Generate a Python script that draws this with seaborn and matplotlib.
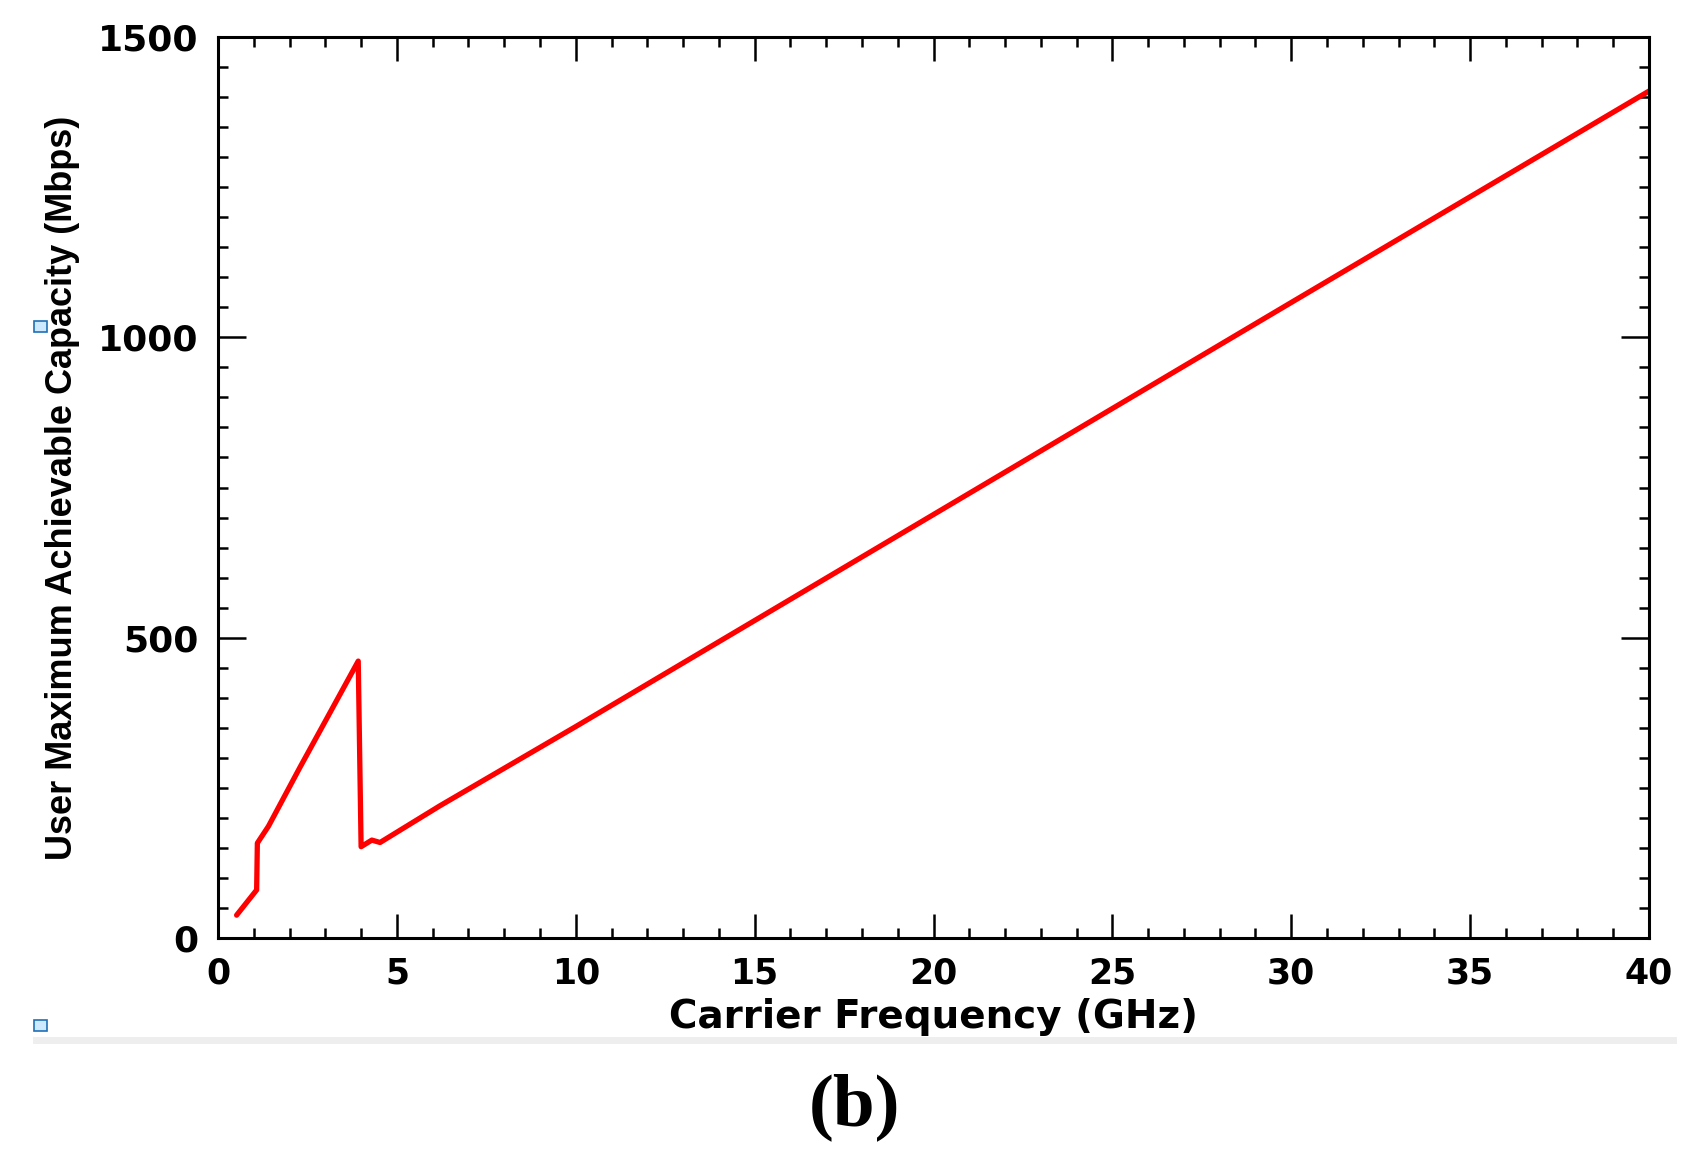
import matplotlib
matplotlib.use("Agg")
import matplotlib.pyplot as plt
from matplotlib.patches import Rectangle
from matplotlib.ticker import MultipleLocator
import seaborn as sns
import pandas as pd

# ---- data ----
freq_ghz = [0.52, 1.08, 1.10, 1.41, 2.29, 3.0, 3.92, 4.0, 4.3, 4.53, 6.2, 10, 20, 30, 40]
capacity_mbps = [38, 80, 158, 186, 284, 361, 461, 152, 163, 159, 220, 352, 705, 1058, 1410]

x_label = "Carrier Frequency (GHz)"
y_label = "User Maximum Achievable Capacity (Mbps)"
panel_label = "(b)"

df = pd.DataFrame({"freq": freq_ghz, "cap": capacity_mbps})

sns.set_theme(style="white")
plt.rcParams["font.family"] = ["DejaVu Sans"]
plt.rcParams["text.color"] = "black"
plt.rcParams["axes.labelcolor"] = "black"
plt.rcParams["xtick.color"] = "black"
plt.rcParams["ytick.color"] = "black"

W, H = 1686, 1174
fig = plt.figure(figsize=(W / 100, H / 100), dpi=100)
ax = fig.add_axes([218 / W, 1 - 938 / H, (1649 - 218) / W, (938 - 37) / H])

sns.lineplot(data=df, x="freq", y="cap", ax=ax, color="#ff0000", linewidth=3.8,
             sort=False, estimator=None)

ax.set_xlim(0, 40)
ax.set_ylim(0, 1500)
ax.xaxis.set_major_locator(MultipleLocator(5))
ax.xaxis.set_minor_locator(MultipleLocator(1))
ax.yaxis.set_major_locator(MultipleLocator(500))
ax.yaxis.set_minor_locator(MultipleLocator(50))

for s in ax.spines.values():
    s.set_visible(True)
    s.set_color("black")
    s.set_linewidth(2.2)

ax.tick_params(axis="both", which="both", direction="in", top=True, right=True,
               bottom=True, left=True, color="black", labelcolor="black")
ax.tick_params(axis="x", which="major", length=17, width=1.8, pad=13, labelsize=25)
ax.tick_params(axis="x", which="minor", length=7, width=1.8)
ax.tick_params(axis="y", which="major", length=20, width=1.8, pad=14, labelsize=26)
ax.tick_params(axis="y", which="minor", length=7, width=1.8)

for lab in ax.get_xticklabels() + ax.get_yticklabels():
    lab.set_fontweight("bold")

ax.set_xlabel(x_label, fontsize=28, fontweight="bold", labelpad=6, color="black")
ax.set_ylabel(y_label, fontsize=26, fontweight="bold", labelpad=13, color="black",
              family=["Liberation Sans", "DejaVu Sans"])

# light gray separator band
fig.patches.append(Rectangle((33 / W, 1 - 1044 / H), (1677 - 33) / W, 7 / H,
                             transform=fig.transFigure, facecolor="#eeeeee",
                             edgecolor="none", zorder=0))
# small blue handle squares
for (px, py) in [(41, 326), (41, 1025)]:
    fig.patches.append(Rectangle(((px - 7) / W, 1 - (py + 6) / H), 13 / W, 11 / H,
                                 transform=fig.transFigure, facecolor="#cde9ff",
                                 edgecolor="#1f6fb5", linewidth=1.2, zorder=5))

fig.text(855 / W, 1 - 1107 / H, panel_label, ha="center", va="center",
         fontsize=54, fontweight="bold", family=["Liberation Serif", "DejaVu Serif"])

fig.savefig("out.png", dpi=100)
